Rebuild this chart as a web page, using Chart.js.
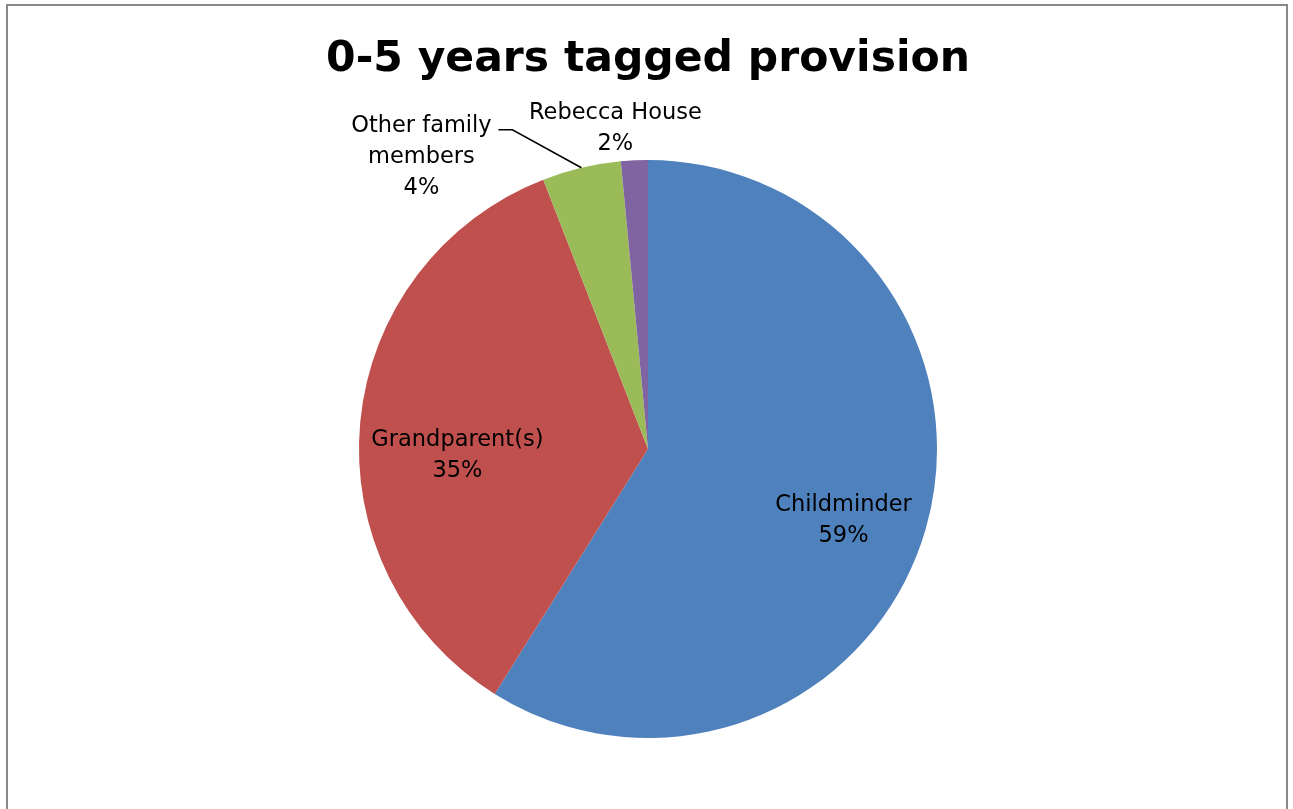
<!DOCTYPE html>
<html>
<head>
<meta charset="utf-8">
<script src="https://cdn.jsdelivr.net/npm/chart.js@4.4.0/dist/chart.umd.min.js"></script>
<style>
  html, body { margin: 0; padding: 0; background: #fff; }
  #wrap { width: 1293px; height: 809px; position: relative; }
</style>
</head>
<body>
<div id="wrap"><canvas id="provisionPie"></canvas></div>
<script>
var categories = ["Childminder", "Grandparent(s)", ["Other family", "members"], "Rebecca House"];
var values = [58.9, 35.2, 4.4, 1.5];
var sliceColors = ["#4F81BD", "#C0504D", "#9BBB59", "#8064A2"];

var deg = Math.PI / 180;
// where each label sits relative to its slice (radius factor, angle nudge, pixel offset)
var placement = [
    { r: 0.72, a: 4 * deg, dx: 0, dy: 0 },
    { r: 0.66, a: -7.5 * deg, dx: 0, dy: 0 },
    { r: 1, a: 0, dx: -160, dy: -11, leader: true },
    { r: 1, a: 0, dx: -19, dy: -32 }
];

var frame = {
    id: "frame",
    beforeDraw: function (chart) {
        var ctx = chart.ctx;
        ctx.save();
        ctx.strokeStyle = "#888888";
        ctx.lineWidth = 2;
        ctx.strokeRect(7, 5, 1280, 900);
        ctx.restore();
    }
};

var sliceLabels = {
    id: "sliceLabels",
    afterDatasetsDraw: function (chart) {
        var ctx = chart.ctx;
        var meta = chart.getDatasetMeta(0);
        var total = values.reduce(function (a, b) { return a + b; }, 0);
        ctx.save();
        ctx.font = '22.5px "DejaVu Sans"';
        ctx.fillStyle = "#000";
        ctx.strokeStyle = "#000";
        ctx.lineWidth = 1.5;
        ctx.textAlign = "center";
        ctx.textBaseline = "middle";
        meta.data.forEach(function (arc, i) {
            var p = arc.getProps(["x", "y", "startAngle", "endAngle", "outerRadius"], true);
            var pl = placement[i];
            var mid = (p.startAngle + p.endAngle) / 2 + pl.a;
            var ax = p.x + Math.cos(mid) * p.outerRadius * pl.r;
            var ay = p.y + Math.sin(mid) * p.outerRadius * pl.r;
            var lines = [].concat(categories[i]);
            lines.push(Math.round(values[i] / total * 100) + "%");
            var lh = 31;
            var cx = ax + pl.dx, cy = ay + pl.dy;
            var top = cy - (lines.length - 1) * lh / 2;
            lines.forEach(function (t, k) {
                ctx.fillText(t, cx, top + k * lh);
            });
            if (pl.leader) {
                ctx.beginPath();
                ctx.moveTo(ax, ay);
                ctx.lineTo(ax - 69, ay - 38);
                ctx.lineTo(ax - 83, ay - 38);
                ctx.stroke();
            }
        });
        ctx.restore();
    }
};

new Chart(document.getElementById("provisionPie").getContext("2d"), {
    type: "pie",
    data: {
        labels: categories,
        datasets: [{
            data: values,
            backgroundColor: sliceColors,
            borderWidth: 0
        }]
    },
    options: {
        responsive: true,
        maintainAspectRatio: false,
        animation: false,
        layout: { padding: { left: 3, right: 0, top: 0, bottom: 71 } },
        plugins: {
            legend: { display: false },
            tooltip: { enabled: false },
            title: {
                display: true,
                text: "0-5 years tagged provision",
                color: "#000",
                font: { family: "DejaVu Sans", size: 42.5, weight: "bold", lineHeight: 1.2 },
                padding: { top: 34, bottom: 75 }
            }
        }
    },
    plugins: [frame, sliceLabels]
});
</script>
</body>
</html>
